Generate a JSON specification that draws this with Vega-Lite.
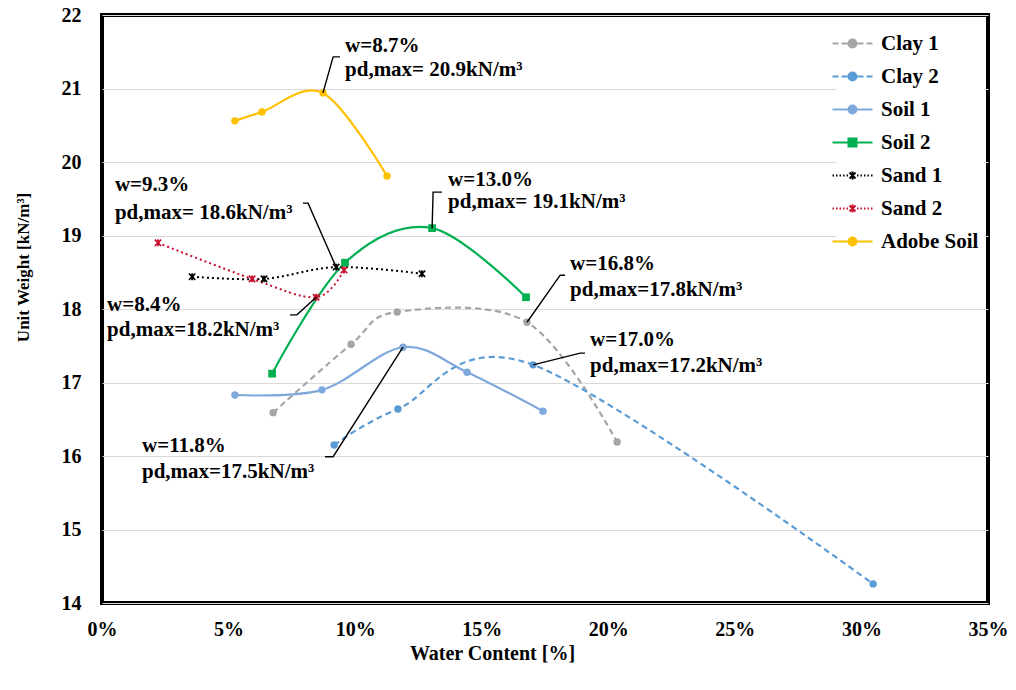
{
  "$schema": "https://vega.github.io/schema/vega-lite/v6.json",
  "width": 886,
  "height": 588,
  "autosize": "none",
  "padding": {"left": 102, "top": 15, "right": 28, "bottom": 87},
  "background": "white",
  "config": {
    "view": {"stroke": "black", "strokeWidth": 4},
    "font": "Liberation Serif",
    "axis": {
      "labelFont": "Liberation Serif", "labelFontWeight": "bold", "labelFontSize": 20, "labelColor": "black",
      "titleFont": "Liberation Serif", "titleFontWeight": "bold", "titleColor": "black"
    },
    "legend": {
      "orient": "none", "legendX": 734, "legendY": 12,
      "labelFont": "Liberation Serif", "labelFontWeight": "bold", "labelFontSize": 21, "labelColor": "black",
      "symbolSize": 100, "symbolStrokeWidth": 2, "labelOffset": 18, "rowPadding": 11, "padding": 6,
      "fillColor": "white"
    }
  },
  "datasets": {
    "pts": [
      {"s": "Clay 1", "w": 6.76, "g": 16.59}, {"s": "Clay 1", "w": 9.84, "g": 17.52}, {"s": "Clay 1", "w": 11.66, "g": 17.96}, {"s": "Clay 1", "w": 16.79, "g": 17.82}, {"s": "Clay 1", "w": 20.35, "g": 16.19},
      {"s": "Clay 2", "w": 9.17, "g": 16.15}, {"s": "Clay 2", "w": 11.69, "g": 16.64}, {"s": "Clay 2", "w": 17.03, "g": 17.24}, {"s": "Clay 2", "w": 30.46, "g": 14.26},
      {"s": "Soil 1", "w": 5.25, "g": 16.83}, {"s": "Soil 1", "w": 8.69, "g": 16.9}, {"s": "Soil 1", "w": 11.89, "g": 17.48}, {"s": "Soil 1", "w": 14.42, "g": 17.14}, {"s": "Soil 1", "w": 17.42, "g": 16.61},
      {"s": "Soil 2", "w": 6.72, "g": 17.12}, {"s": "Soil 2", "w": 9.6, "g": 18.63}, {"s": "Soil 2", "w": 13.04, "g": 19.1}, {"s": "Soil 2", "w": 16.75, "g": 18.16},
      {"s": "Sand 1", "w": 3.56, "g": 18.44}, {"s": "Sand 1", "w": 6.4, "g": 18.41}, {"s": "Sand 1", "w": 9.25, "g": 18.57}, {"s": "Sand 1", "w": 12.64, "g": 18.48},
      {"s": "Sand 2", "w": 2.21, "g": 18.9}, {"s": "Sand 2", "w": 5.93, "g": 18.41}, {"s": "Sand 2", "w": 8.46, "g": 18.16}, {"s": "Sand 2", "w": 9.56, "g": 18.53},
      {"s": "Adobe Soil", "w": 5.25, "g": 20.56}, {"s": "Adobe Soil", "w": 6.32, "g": 20.68}, {"s": "Adobe Soil", "w": 8.73, "g": 20.94}, {"s": "Adobe Soil", "w": 11.26, "g": 19.81}
    ],
    "ann": [
      {"w": 9.6, "g": 21.58, "t": "w=8.7%"}, {"w": 9.6, "g": 21.25, "t": "pd,max= 20.9kN/m³"},
      {"w": 13.67, "g": 19.755, "t": "w=13.0%"}, {"w": 13.67, "g": 19.456, "t": "pd,max= 19.1kN/m³"},
      {"w": 0.51, "g": 19.69, "t": "w=9.3%"}, {"w": 0.51, "g": 19.31, "t": "pd,max= 18.6kN/m³"},
      {"w": 0.2, "g": 18.05, "t": "w=8.4%"}, {"w": 0.2, "g": 17.71, "t": "pd,max=18.2kN/m³"},
      {"w": 18.49, "g": 18.61, "t": "w=16.8%"}, {"w": 18.49, "g": 18.26, "t": "pd,max=17.8kN/m³"},
      {"w": 19.28, "g": 17.58, "t": "w=17.0%"}, {"w": 19.28, "g": 17.22, "t": "pd,max=17.2kN/m³"},
      {"w": 1.58, "g": 16.14, "t": "w=11.8%"}, {"w": 1.58, "g": 15.78, "t": "pd,max=17.5kN/m³"}
    ],
    "lead": [
      {"id": "a", "o": 1, "w": 8.73, "g": 20.94}, {"id": "a", "o": 2, "w": 9.13, "g": 21.43}, {"id": "a", "o": 3, "w": 9.4, "g": 21.43},
      {"id": "b", "o": 1, "w": 13.04, "g": 19.1}, {"id": "b", "o": 2, "w": 13.08, "g": 19.59}, {"id": "b", "o": 3, "w": 13.43, "g": 19.59},
      {"id": "c", "o": 1, "w": 9.25, "g": 18.57}, {"id": "c", "o": 2, "w": 8.14, "g": 19.44}, {"id": "c", "o": 3, "w": 7.94, "g": 19.44},
      {"id": "d", "o": 1, "w": 8.46, "g": 18.16}, {"id": "d", "o": 2, "w": 7.7, "g": 17.92}, {"id": "d", "o": 3, "w": 7.43, "g": 17.92},
      {"id": "e", "o": 1, "w": 16.79, "g": 17.82}, {"id": "e", "o": 2, "w": 18.1, "g": 18.46}, {"id": "e", "o": 3, "w": 18.29, "g": 18.46},
      {"id": "f", "o": 1, "w": 17.03, "g": 17.24}, {"id": "f", "o": 2, "w": 18.89, "g": 17.4}, {"id": "f", "o": 3, "w": 19.08, "g": 17.4},
      {"id": "g", "o": 1, "w": 11.89, "g": 17.48}, {"id": "g", "o": 2, "w": 9.13, "g": 15.99}, {"id": "g", "o": 3, "w": 8.81, "g": 15.99}
    ]
  },
  "encoding": {
    "x": {
      "field": "w", "type": "quantitative",
      "scale": {"domain": [0, 35], "nice": false, "zero": false},
      "axis": {
        "values": [0, 5, 10, 15, 20, 25, 30, 35], "labelExpr": "datum.value + '%'", "labelFlush": false,
        "grid": false, "ticks": false, "domain": false, "labelPadding": 16,
        "title": "Water Content [%]", "titleFontSize": 20, "titleX": 390, "titleY": 50, "titleBaseline": "middle"
      }
    },
    "y": {
      "field": "g", "type": "quantitative",
      "scale": {"domain": [14, 22], "nice": false, "zero": false},
      "axis": {
        "values": [14, 15, 16, 17, 18, 19, 20, 21, 22], "labelFlush": false,
        "grid": true, "gridColor": "#d9d9d9", "gridWidth": 1, "ticks": false, "domain": false, "labelPadding": 21,
        "title": "Unit Weight [kN/m³]", "titleFontSize": 17, "titleX": -79, "titleY": 252, "titleBaseline": "middle"
      }
    }
  },
  "layer": [
    {
      "data": {"name": "pts"},
      "transform": [{"filter": "datum.s == 'Clay 1' || datum.s == 'Clay 2'"}],
      "mark": {"type": "line", "interpolate": "cardinal", "strokeWidth": 2.2, "strokeDash": [6, 4]},
      "encoding": {
        "stroke": {"field": "s", "type": "nominal",
          "scale": {"domain": ["Clay 1", "Clay 2", "Soil 1", "Soil 2", "Sand 1", "Sand 2", "Adobe Soil"],
                    "range": ["#A5A5A5", "#5B9BD5", "#7FA8DC", "#00B050", "#000000", "#C8102E", "#FFC000"]},
          "legend": {"title": null, "orient": "none"}}
      }
    },
    {
      "data": {"name": "pts"},
      "transform": [{"filter": "datum.s == 'Soil 1' || datum.s == 'Soil 2' || datum.s == 'Adobe Soil'"}],
      "mark": {"type": "line", "interpolate": "cardinal", "strokeWidth": 2.2},
      "encoding": {
        "stroke": {"field": "s", "type": "nominal", "legend": {"title": null, "orient": "none"}}
      }
    },
    {
      "data": {"name": "pts"},
      "transform": [{"filter": "datum.s == 'Sand 1' || datum.s == 'Sand 2'"}],
      "mark": {"type": "line", "interpolate": "cardinal", "strokeWidth": 2, "strokeDash": [2, 3]},
      "encoding": {
        "stroke": {"field": "s", "type": "nominal", "legend": {"title": null, "orient": "none"}}
      }
    },
    {
      "data": {"name": "pts"},
      "transform": [{"filter": "datum.s != 'Soil 2' && datum.s != 'Sand 1' && datum.s != 'Sand 2'"}],
      "mark": {"type": "point", "shape": "circle", "filled": true, "opacity": 1, "size": 55},
      "encoding": {
        "fill": {"field": "s", "type": "nominal",
          "scale": {"domain": ["Clay 1", "Clay 2", "Soil 1", "Soil 2", "Sand 1", "Sand 2", "Adobe Soil"],
                    "range": ["#A5A5A5", "#5B9BD5", "#7FA8DC", "#00B050", "#000000", "#C8102E", "#FFC000"]},
          "legend": {"title": null, "orient": "none"}}
      }
    },
    {
      "data": {"name": "pts"},
      "transform": [{"filter": "datum.s == 'Soil 2'"}],
      "mark": {"type": "point", "shape": "square", "filled": true, "opacity": 1, "size": 60},
      "encoding": {"fill": {"field": "s", "type": "nominal", "legend": {"title": null, "orient": "none"}}}
    },
    {
      "data": {"name": "pts"},
      "transform": [{"filter": "datum.s == 'Sand 1' || datum.s == 'Sand 2'"}],
      "mark": {"type": "point", "shape": "M-1,-1L1,1M-1,1L1,-1M0,-1.1L0,1.1", "filled": false, "opacity": 1, "size": 40, "strokeWidth": 1.7},
      "encoding": {"stroke": {"field": "s", "type": "nominal", "legend": {"title": null, "orient": "none"}}}
    },
    {
      "data": {"name": "lead"},
      "mark": {"type": "line", "color": "black", "strokeWidth": 1.4},
      "encoding": {"detail": {"field": "id"}, "order": {"field": "o", "type": "quantitative"}}
    },
    {
      "data": {"name": "ann"},
      "mark": {"type": "text", "align": "left", "baseline": "middle", "font": "Liberation Serif", "fontWeight": "bold", "fontSize": 21, "color": "black"},
      "encoding": {"text": {"field": "t"}}
    },
    {
      "data": {"name": "pts"},
      "transform": [{"filter": "false"}],
      "mark": {"type": "point", "filled": true, "opacity": 1},
      "encoding": {
        "shape": {"field": "s", "type": "nominal",
          "scale": {"domain": ["Clay 1", "Clay 2", "Soil 1", "Soil 2", "Sand 1", "Sand 2", "Adobe Soil"],
            "range": [
              "M-4,0H-2.8M-2.2,0H-1M1,0H2.2M2.8,0H4M0.8,0A0.8,0.8 0 1,1 -0.8,0A0.8,0.8 0 1,1 0.8,0Z",
              "M-4,0H-2.8M-2.2,0H-1M1,0H2.2M2.8,0H4M0.8,0A0.8,0.8 0 1,1 -0.8,0A0.8,0.8 0 1,1 0.8,0Z",
              "M-4,0H4M0.8,0A0.8,0.8 0 1,1 -0.8,0A0.8,0.8 0 1,1 0.8,0Z",
              "M-4,0H4M-0.8,-0.8H0.8V0.8H-0.8Z",
              "M-4,0H-3.7M-3.3,0H-3M-2.6,0H-2.3M-1.9,0H-1.6M-1.2,0H-0.9M0.9,0H1.2M1.6,0H1.9M2.3,0H2.6M3,0H3.3M3.7,0H4M-0.6,-0.6L0.6,0.6M-0.6,0.6L0.6,-0.6M0,-0.8L0,0.8",
              "M-4,0H-3.7M-3.3,0H-3M-2.6,0H-2.3M-1.9,0H-1.6M-1.2,0H-0.9M0.9,0H1.2M1.6,0H1.9M2.3,0H2.6M3,0H3.3M3.7,0H4M-0.6,-0.6L0.6,0.6M-0.6,0.6L0.6,-0.6M0,-0.8L0,0.8",
              "M-4,0H4M0.8,0A0.8,0.8 0 1,1 -0.8,0A0.8,0.8 0 1,1 0.8,0Z"
            ]},
          "legend": {"title": null, "orient": "none"}}
      }
    }
  ]
}
